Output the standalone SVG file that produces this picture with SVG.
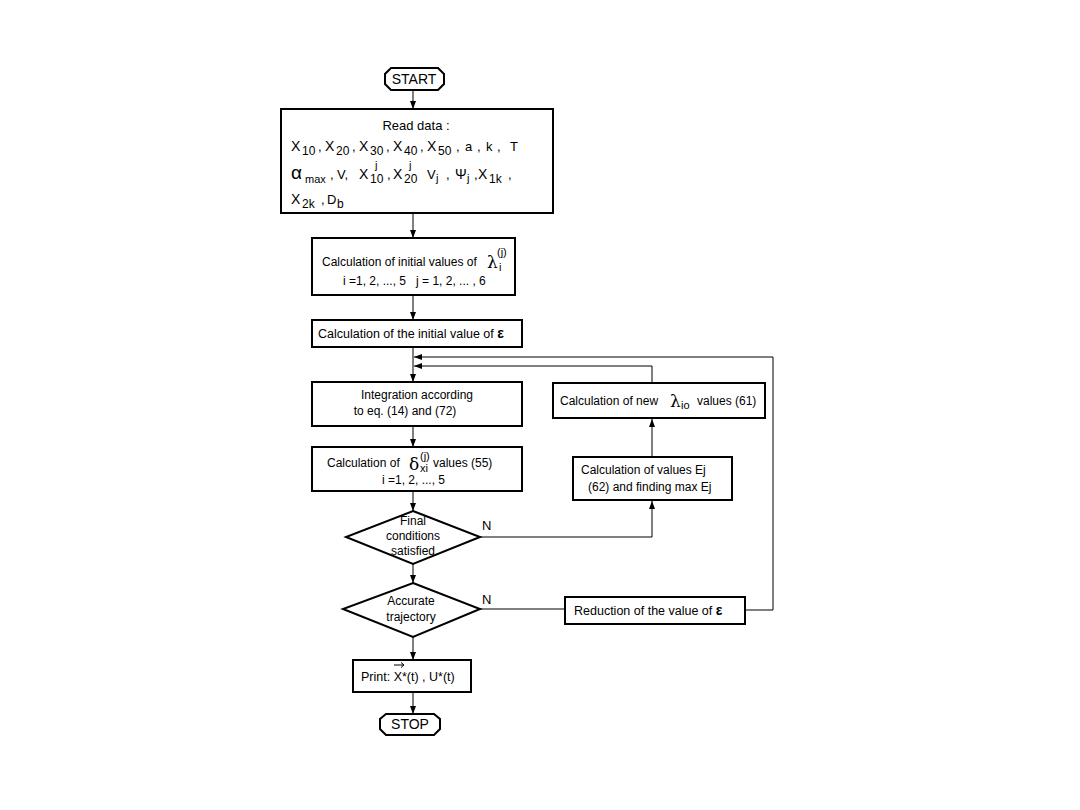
<svg xmlns="http://www.w3.org/2000/svg" width="1080" height="810" viewBox="0 0 1080 810">
<defs>
<marker id="ah" viewBox="0 0 8 8" refX="8" refY="4" markerWidth="8" markerHeight="8" markerUnits="userSpaceOnUse" orient="auto">
<path d="M0,1 L8,4 L0,7 Z" fill="#000"/>
</marker>
</defs>
<style>
.box{fill:#fff;stroke:#000;stroke-width:2}
.ln{fill:none;stroke:#000;stroke-width:1}
text{font-family:"Liberation Sans",Arial,sans-serif;font-size:12px;fill:#000}
.c{text-anchor:middle}
.sub{font-size:11px}
.rs{font-size:12px}
.big{font-size:14px}
.m{font-size:13px}
.t125{font-size:12.5px}
.alpha{font-size:19px}
.eps{font-weight:bold;font-size:14px}
.gr{font-family:"DejaVu Serif","Liberation Serif",serif;font-size:17px}
</style>
<rect width="1080" height="810" fill="#fff"/>

<g id="connectors">
<line class="ln" x1="413" y1="90" x2="413" y2="109" marker-end="url(#ah)"/>
<line class="ln" x1="413" y1="213" x2="413" y2="238" marker-end="url(#ah)"/>
<line class="ln" x1="413" y1="296" x2="413" y2="320" marker-end="url(#ah)"/>
<line class="ln" x1="413" y1="347" x2="413" y2="382" marker-end="url(#ah)"/>
<line class="ln" x1="413" y1="426" x2="413" y2="447" marker-end="url(#ah)"/>
<line class="ln" x1="413" y1="491" x2="413" y2="511" marker-end="url(#ah)"/>
<line class="ln" x1="413" y1="564" x2="413" y2="583" marker-end="url(#ah)"/>
<line class="ln" x1="413" y1="637" x2="413" y2="660" marker-end="url(#ah)"/>
<line class="ln" x1="413" y1="692" x2="413" y2="714" marker-end="url(#ah)"/>
<polyline class="ln" points="480,537 652,537 652,501" marker-end="url(#ah)"/>
<line class="ln" x1="652" y1="457" x2="652" y2="419" marker-end="url(#ah)"/>
<polyline class="ln" points="652,383 652,366 414,366" marker-end="url(#ah)"/>
<line class="ln" x1="480" y1="609" x2="565" y2="609"/>
<polyline class="ln" points="745,610 773,610 773,357 414,357" marker-end="url(#ah)"/>
</g>

<g id="start">
<path class="box" d="M391,68 L438,68 L444,74 L444,84 L438,90 L391,90 L385,84 L385,74 Z"/>
<text class="c big" x="414" y="84">START</text>
</g>

<g id="read">
<rect class="box" x="281" y="109" width="272" height="104"/>
<text class="c m" x="416" y="130">Read data :</text>
<text class="big" x="291" y="151">X</text><text class="rs" x="302" y="155">10</text><text class="m" x="318" y="151">,</text>
<text class="big" x="325" y="151">X</text><text class="rs" x="336" y="155">20</text><text class="m" x="352" y="151">,</text>
<text class="big" x="359" y="151">X</text><text class="rs" x="370" y="155">30</text><text class="m" x="386" y="151">,</text>
<text class="big" x="393" y="151">X</text><text class="rs" x="404" y="155">40</text><text class="m" x="420" y="151">,</text>
<text class="big" x="427" y="151">X</text><text class="rs" x="438" y="155">50</text>
<text class="m" x="456" y="151">,</text><text class="m" x="465" y="151">a</text><text class="m" x="477" y="151">,</text>
<text class="m" x="486" y="151">k</text><text class="m" x="497" y="151">,</text><text class="m" x="510" y="151">T</text>
<text class="alpha" x="291" y="179">α</text><text class="sub" x="305" y="183">max</text>
<text class="m" x="330" y="179">,</text><text class="m" x="337" y="179">V,</text>
<text class="big" x="359" y="179">X</text><text class="rs" x="370" y="183">10</text><text class="sub" x="375" y="169">j</text>
<text class="m" x="387" y="179">,</text>
<text class="big" x="393" y="179">X</text><text class="rs" x="404" y="183">20</text><text class="sub" x="409" y="169">j</text>
<text class="m" x="427" y="179">V</text><text class="sub" x="436" y="182">j</text>
<text class="m" x="446" y="179">,</text>
<text class="big" x="455" y="179">Ψ</text><text class="sub" x="467" y="182">j</text>
<text class="m" x="474" y="179">,</text>
<text class="big" x="478" y="179">X</text><text class="rs" x="489" y="183">1k</text>
<text class="m" x="508" y="179">,</text>
<text class="big" x="291" y="204">X</text><text class="rs" x="302" y="208">2k</text>
<text class="m" x="321" y="204">,</text><text class="m" x="327" y="204">D</text><text class="rs" x="337" y="208">b</text>
</g>

<g id="init-lambda">
<rect class="box" x="312" y="238" width="203" height="57"/>
<text x="322" y="266">Calculation of initial values of </text>
<text class="gr" x="487" y="268">λ</text>
<text class="sub" x="499" y="271">i</text>
<text class="sub" x="497" y="256">(j)</text>
<text x="343" y="285" xml:space="preserve">i =1, 2, ..., 5   j = 1, 2, ... , 6</text>
</g>

<g id="init-eps">
<rect class="box" x="312" y="320" width="210" height="27"/>
<text class="t125" x="318" y="338">Calculation of the initial value of <tspan class="eps">ε</tspan></text>
</g>

<g id="integration">
<rect class="box" x="312" y="382" width="210" height="44"/>
<text class="c" x="417" y="399">Integration according</text>
<text class="c" x="405" y="415">to eq. (14) and (72)</text>
</g>

<g id="delta">
<rect class="box" x="312" y="447" width="210" height="44"/>
<text x="327" y="467">Calculation of </text>
<text class="gr" x="409" y="470">δ</text>
<text class="sub" x="420" y="472">xi</text>
<text class="sub" x="420" y="460">(j)</text>
<text x="433" y="467">values (55)</text>
<text x="382" y="484">i =1, 2, ..., 5</text>
</g>

<g id="new-lambda">
<rect class="box" x="553" y="383" width="212" height="35"/>
<text x="560" y="405">Calculation of new </text>
<text class="gr" x="670" y="407">λ</text>
<text class="sub" x="681" y="409">io</text>
<text x="697" y="405">values (61)</text>
</g>

<g id="ej">
<rect class="box" x="573" y="457" width="159" height="43"/>
<text x="581" y="474">Calculation of values Ej</text>
<text x="588" y="491">(62) and finding max Ej</text>
</g>

<g id="final">
<polygon class="box" points="413,511 480,537 413,564 346,537"/>
<text class="c" x="413" y="525">Final</text>
<text class="c" x="413" y="540">conditions</text>
<text class="c" x="413" y="555">satisfied</text>
<text class="m" x="482" y="530">N</text>
</g>

<g id="accurate">
<polygon class="box" points="413,583 480,609 413,637 343,609"/>
<text class="c" x="411" y="605">Accurate</text>
<text class="c" x="411" y="621">trajectory</text>
<text class="m" x="482" y="604">N</text>
</g>

<g id="reduction">
<rect class="box" x="565" y="597" width="180" height="27"/>
<text class="t125" x="574" y="615">Reduction of the value of <tspan class="eps">ε</tspan></text>
</g>

<g id="print">
<rect class="box" x="353" y="660" width="118" height="32"/>
<text class="t125" x="361" y="681">Print: X*(t) , U*(t)</text>
<path class="ln" d="M394,665 L404,665 M401,662.5 L404,665 L401,667.5"/>
</g>

<g id="stop">
<path class="box" d="M386,714 L434,714 L440,719 L440,729 L434,735 L386,735 L380,729 L380,719 Z"/>
<text class="c big" x="410" y="729">STOP</text>
</g>
</svg>
